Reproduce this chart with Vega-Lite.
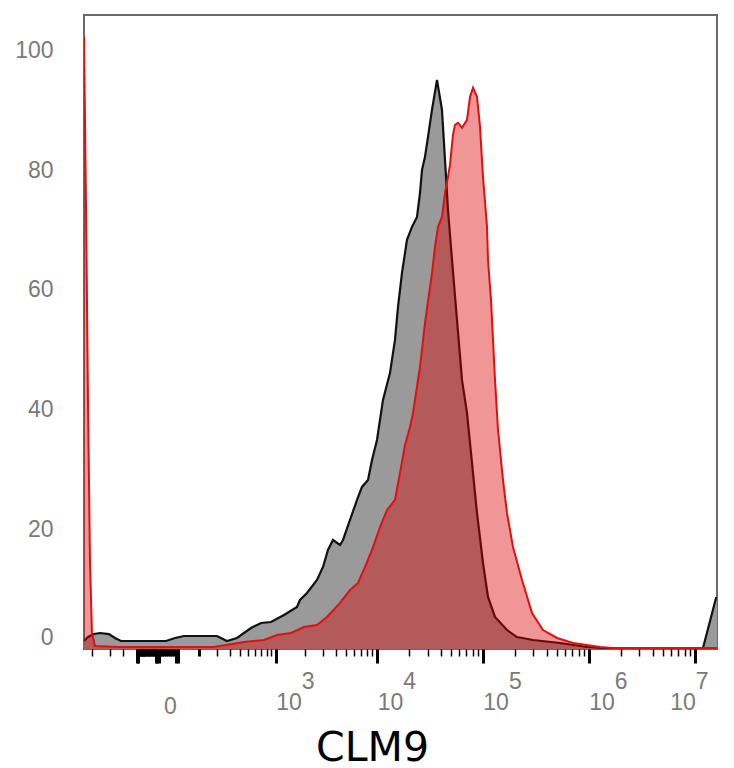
{
  "$schema": "https://vega.github.io/schema/vega-lite/v6.json",
  "width": 633,
  "height": 634,
  "autosize": {"type": "none"},
  "padding": {"left": 84, "top": 15, "right": 17, "bottom": 119},
  "config": {
    "view": {"stroke": "#6a6a6a", "strokeWidth": 2},
    "axis": {"labelFont": "Liberation Sans", "labelColor": "#7a7a7a", "labelFontSize": 23}
  },
  "data": {
    "values": [
      {"sample": "isotype", "intensity": -613, "count": 1.34},
      {"sample": "isotype", "intensity": -553, "count": 2.0},
      {"sample": "isotype", "intensity": -472, "count": 2.5},
      {"sample": "isotype", "intensity": -400, "count": 2.67},
      {"sample": "isotype", "intensity": -309, "count": 2.5},
      {"sample": "isotype", "intensity": -258, "count": 1.84},
      {"sample": "isotype", "intensity": -213, "count": 1.34},
      {"sample": "isotype", "intensity": -103, "count": 1.34},
      {"sample": "isotype", "intensity": -10, "count": 1.34},
      {"sample": "isotype", "intensity": 13, "count": 1.84},
      {"sample": "isotype", "intensity": 40, "count": 2.17},
      {"sample": "isotype", "intensity": 103, "count": 2.17},
      {"sample": "isotype", "intensity": 199, "count": 2.17},
      {"sample": "isotype", "intensity": 274, "count": 1.34},
      {"sample": "isotype", "intensity": 368, "count": 1.84},
      {"sample": "isotype", "intensity": 539, "count": 3.51},
      {"sample": "isotype", "intensity": 697, "count": 4.34},
      {"sample": "isotype", "intensity": 893, "count": 4.51},
      {"sample": "isotype", "intensity": 1221, "count": 5.68},
      {"sample": "isotype", "intensity": 1655, "count": 7.02},
      {"sample": "isotype", "intensity": 1774, "count": 8.19},
      {"sample": "isotype", "intensity": 2084, "count": 9.36},
      {"sample": "isotype", "intensity": 2617, "count": 11.53},
      {"sample": "isotype", "intensity": 2997, "count": 13.7},
      {"sample": "isotype", "intensity": 3353, "count": 16.54},
      {"sample": "isotype", "intensity": 3751, "count": 18.21},
      {"sample": "isotype", "intensity": 4387, "count": 17.38},
      {"sample": "isotype", "intensity": 4690, "count": 18.21},
      {"sample": "isotype", "intensity": 5477, "count": 21.55},
      {"sample": "isotype", "intensity": 6395, "count": 24.9},
      {"sample": "isotype", "intensity": 7141, "count": 27.07},
      {"sample": "isotype", "intensity": 8152, "count": 28.24},
      {"sample": "isotype", "intensity": 8902, "count": 31.58},
      {"sample": "isotype", "intensity": 9936, "count": 34.92},
      {"sample": "isotype", "intensity": 11334, "count": 41.6},
      {"sample": "isotype", "intensity": 13220, "count": 46.12},
      {"sample": "isotype", "intensity": 14740, "count": 51.63},
      {"sample": "isotype", "intensity": 15750, "count": 57.14},
      {"sample": "isotype", "intensity": 17180, "count": 62.82},
      {"sample": "isotype", "intensity": 19160, "count": 68.34},
      {"sample": "isotype", "intensity": 21380, "count": 70.51},
      {"sample": "isotype", "intensity": 23850, "count": 72.18},
      {"sample": "isotype", "intensity": 25460, "count": 76.19},
      {"sample": "isotype", "intensity": 26600, "count": 80.03},
      {"sample": "isotype", "intensity": 28390, "count": 82.21},
      {"sample": "isotype", "intensity": 30310, "count": 85.55},
      {"sample": "isotype", "intensity": 33070, "count": 90.06},
      {"sample": "isotype", "intensity": 36880, "count": 95.07},
      {"sample": "isotype", "intensity": 41110, "count": 90.06},
      {"sample": "isotype", "intensity": 43900, "count": 81.7},
      {"sample": "isotype", "intensity": 46860, "count": 73.35},
      {"sample": "isotype", "intensity": 51130, "count": 65.0},
      {"sample": "isotype", "intensity": 57000, "count": 54.97},
      {"sample": "isotype", "intensity": 63550, "count": 44.95},
      {"sample": "isotype", "intensity": 70870, "count": 39.43},
      {"sample": "isotype", "intensity": 79000, "count": 31.08},
      {"sample": "isotype", "intensity": 88080, "count": 22.72},
      {"sample": "isotype", "intensity": 100360, "count": 14.37},
      {"sample": "isotype", "intensity": 111890, "count": 8.69},
      {"sample": "isotype", "intensity": 130260, "count": 5.35},
      {"sample": "isotype", "intensity": 169120, "count": 3.17},
      {"sample": "isotype", "intensity": 210100, "count": 2.0},
      {"sample": "isotype", "intensity": 297600, "count": 1.5},
      {"sample": "isotype", "intensity": 535000, "count": 1.0},
      {"sample": "isotype", "intensity": 962000, "count": 0.33},
      {"sample": "isotype", "intensity": 1970000, "count": 0},
      {"sample": "isotype", "intensity": 11200000, "count": 0},
      {"sample": "isotype", "intensity": 11950000, "count": 0.17},
      {"sample": "isotype", "intensity": 15850000, "count": 8.52},
      {"sample": "isotype", "intensity": 16200000, "count": 8.52},
      {"sample": "CLM9", "intensity": -613, "count": 102.3},
      {"sample": "CLM9", "intensity": -583, "count": 75.0},
      {"sample": "CLM9", "intensity": -553, "count": 41.6},
      {"sample": "CLM9", "intensity": -525, "count": 14.9},
      {"sample": "CLM9", "intensity": -498, "count": 2.67},
      {"sample": "CLM9", "intensity": -459, "count": 0.5},
      {"sample": "CLM9", "intensity": -220, "count": 0.33},
      {"sample": "CLM9", "intensity": 179, "count": 0.33},
      {"sample": "CLM9", "intensity": 447, "count": 1.17},
      {"sample": "CLM9", "intensity": 751, "count": 1.5},
      {"sample": "CLM9", "intensity": 1033, "count": 2.34},
      {"sample": "CLM9", "intensity": 1439, "count": 2.67},
      {"sample": "CLM9", "intensity": 1946, "count": 3.68},
      {"sample": "CLM9", "intensity": 2617, "count": 4.01},
      {"sample": "CLM9", "intensity": 3279, "count": 5.35},
      {"sample": "CLM9", "intensity": 4387, "count": 7.69},
      {"sample": "CLM9", "intensity": 5477, "count": 9.86},
      {"sample": "CLM9", "intensity": 6539, "count": 11.03},
      {"sample": "CLM9", "intensity": 7631, "count": 13.7},
      {"sample": "CLM9", "intensity": 8902, "count": 16.54},
      {"sample": "CLM9", "intensity": 10610, "count": 20.38},
      {"sample": "CLM9", "intensity": 12380, "count": 23.22},
      {"sample": "CLM9", "intensity": 14740, "count": 24.9},
      {"sample": "CLM9", "intensity": 16450, "count": 29.41},
      {"sample": "CLM9", "intensity": 18350, "count": 34.09},
      {"sample": "CLM9", "intensity": 20470, "count": 37.09},
      {"sample": "CLM9", "intensity": 21850, "count": 39.43},
      {"sample": "CLM9", "intensity": 24370, "count": 44.95},
      {"sample": "CLM9", "intensity": 25460, "count": 47.12},
      {"sample": "CLM9", "intensity": 28390, "count": 54.47},
      {"sample": "CLM9", "intensity": 33070, "count": 62.82},
      {"sample": "CLM9", "intensity": 35300, "count": 67.17},
      {"sample": "CLM9", "intensity": 37700, "count": 70.51},
      {"sample": "CLM9", "intensity": 41110, "count": 72.18},
      {"sample": "CLM9", "intensity": 43900, "count": 76.19},
      {"sample": "CLM9", "intensity": 46860, "count": 78.86},
      {"sample": "CLM9", "intensity": 48970, "count": 80.9},
      {"sample": "CLM9", "intensity": 52260, "count": 85.9},
      {"sample": "CLM9", "intensity": 54590, "count": 87.55},
      {"sample": "CLM9", "intensity": 58260, "count": 87.89},
      {"sample": "CLM9", "intensity": 63550, "count": 87.05},
      {"sample": "CLM9", "intensity": 70870, "count": 88.39},
      {"sample": "CLM9", "intensity": 75670, "count": 92.23},
      {"sample": "CLM9", "intensity": 80760, "count": 93.73},
      {"sample": "CLM9", "intensity": 88080, "count": 92.23},
      {"sample": "CLM9", "intensity": 94060, "count": 87.22},
      {"sample": "CLM9", "intensity": 100360, "count": 78.86},
      {"sample": "CLM9", "intensity": 109490, "count": 70.51},
      {"sample": "CLM9", "intensity": 111890, "count": 65.0},
      {"sample": "CLM9", "intensity": 119400, "count": 58.31},
      {"sample": "CLM9", "intensity": 124770, "count": 51.63},
      {"sample": "CLM9", "intensity": 130260, "count": 44.95},
      {"sample": "CLM9", "intensity": 139100, "count": 36.59},
      {"sample": "CLM9", "intensity": 155000, "count": 28.24},
      {"sample": "CLM9", "intensity": 169120, "count": 22.72},
      {"sample": "CLM9", "intensity": 192600, "count": 17.04},
      {"sample": "CLM9", "intensity": 234300, "count": 11.53},
      {"sample": "CLM9", "intensity": 291200, "count": 6.02},
      {"sample": "CLM9", "intensity": 369800, "count": 3.17},
      {"sample": "CLM9", "intensity": 501200, "count": 1.84},
      {"sample": "CLM9", "intensity": 709700, "count": 1.0},
      {"sample": "CLM9", "intensity": 1275800, "count": 0.33},
      {"sample": "CLM9", "intensity": 1692600, "count": 0.17},
      {"sample": "CLM9", "intensity": 16200000, "count": 0.17}
    ]
  },
  "encoding": {
    "x": {
      "field": "intensity",
      "type": "quantitative",
      "scale": {"type": "symlog", "constant": 112, "domain": [-613, 16200000], "nice": false, "zero": false},
      "axis": {
        "values": [-500, -300, -200, -115, -110, -105, -100, -95, -90, -85, -80, -75, -70, -65, -60, -55, -50, -45, -40, -35, -30, -25, -20, -15, -10, -5, 0, 5, 10, 15, 20,
          100, 200, 300, 400, 500, 600, 700, 800, 900,
          1000, 2000, 3000, 4000, 5000, 6000, 7000, 8000, 9000,
          10000, 20000, 30000, 40000, 50000, 60000, 70000, 80000, 90000,
          100000, 200000, 300000, 400000, 500000, 600000, 700000, 800000, 900000,
          1000000, 2000000, 3000000, 4000000, 5000000, 6000000, 7000000, 8000000, 9000000,
          10000000],
        "title": "CLM9",
        "titleFont": "DejaVu Sans",
        "titleFontSize": 41,
        "titleFontWeight": "normal",
        "titleColor": "#000000",
        "titleX": 288,
        "titleY": 111,
        "titleBaseline": "alphabetic",
        "titleAlign": "center",
        "grid": false,
        "domain": false,
        "tickColor": "#000000",
        "tickSize": {
          "condition": {"test": "indexof([1000,10000,100000,1000000,10000000,-115,-110,-40,-35,-30,15,20], datum.value) >= 0", "value": 14},
          "value": 7
        },
        "tickWidth": {
          "condition": {"test": "abs(datum.value) <= 115 || indexof([1000,10000,100000,1000000,10000000], datum.value) >= 0", "value": 3},
          "value": 1.5
        },
        "labelExpr": "datum.value === 0 ? '0' : indexof([1000,10000,100000,1000000,10000000], datum.value) >= 0 ? ['\u200b\u00a0\u00a0\u00a0\u00a0' + round(log(datum.value) / LN10), '10'] : ''",
        "labelAlign": {"condition": {"test": "datum.value === 0", "value": "center"}, "value": "left"},
        "labelOffset": {"condition": {"test": "datum.value === 10000000", "value": -25}, "value": 0},
        "labelPadding": {"condition": {"test": "datum.value === 0", "value": 39}, "value": 7},
        "labelOverlap": false,
        "labelFlush": false,
        "labelBound": false,
        "labelLineHeight": 21
      }
    },
    "y": {
      "field": "count",
      "type": "quantitative",
      "scale": {"domain": [0, 105.9], "nice": false},
      "axis": {
        "values": [0, 20, 40, 60, 80, 100],
        "title": null,
        "ticks": false,
        "domain": false,
        "grid": false,
        "labelPadding": 31,
        "labelFlush": true
      }
    }
  },
  "layer": [
    {
      "transform": [{"filter": "datum.sample === 'isotype'"}],
      "mark": {"type": "area", "color": "#9a9a9a", "clip": true}
    },
    {
      "transform": [{"filter": "datum.sample === 'isotype'"}],
      "mark": {"type": "line", "color": "#111111", "strokeWidth": 2.2, "clip": true}
    },
    {
      "transform": [{"filter": "datum.sample === 'CLM9'"}],
      "mark": {"type": "area", "color": "#da0000", "opacity": 0.41, "clip": true}
    },
    {
      "transform": [{"filter": "datum.sample === 'CLM9'"}],
      "mark": {"type": "line", "color": "#e01010", "strokeWidth": 2, "clip": true}
    }
  ]
}
